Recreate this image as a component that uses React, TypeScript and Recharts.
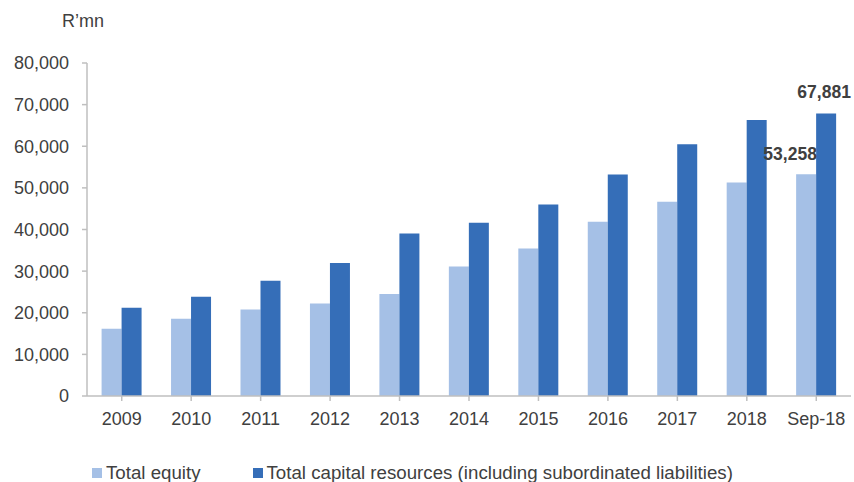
import React from "react";
import { BarChart, Bar, XAxis, YAxis, Legend, LabelList } from "recharts";

const categories = ["2009", "2010", "2011", "2012", "2013", "2014", "2015", "2016", "2017", "2018", "Sep-18"];
const totalEquity = [16180, 18580, 20810, 22250, 24490, 31130, 35450, 41850, 46650, 51290, 53258];
const totalCapital = [21220, 23860, 27700, 31930, 39050, 41610, 46010, 53210, 60480, 66330, 67881];
const yTicks = [0, 10000, 20000, 30000, 40000, 50000, 60000, 70000, 80000];
const legendLabels = ["Total equity", "Total capital resources (including subordinated liabilities)"];

const LIGHT = "#A5C0E6";
const DARK = "#356EB8";
const TEXT = "#404040";
const AXIS = "#BFBFBF";
const FONT = "'Liberation Sans', Arial, sans-serif";

const data = categories.map((c, i) => ({
  name: c,
  equity: totalEquity[i],
  capital: totalCapital[i],
}));

const fmt = (v: number) => v.toLocaleString("en-US");

const makeLabel = (dx: number, dy: number) => (props: any) => {
  const { x, y, width, value, index } = props;
  if (index !== categories.length - 1) return null;
  return (
    <text
      x={Number(x) + Number(width) / 2 + dx}
      y={Number(y) + dy}
      textAnchor="middle"
      fontFamily={FONT}
      fontSize={17.5}
      fontWeight="bold"
      fill={TEXT}
    >
      {fmt(Number(value))}
    </text>
  );
};

const LegendContent = () => (
  <svg width={854} height={50} style={{ display: "block", overflow: "hidden" }}>
    <rect x={92} y={36} width={10} height={10} fill={LIGHT} />
    <text x={106} y={47} fontFamily={FONT} fontSize={18.7} fill={TEXT}>
      {legendLabels[0]}
    </text>
    <rect x={253} y={36} width={10} height={10} fill={DARK} />
    <text x={266.5} y={47} fontFamily={FONT} fontSize={18.7} fill={TEXT}>
      {legendLabels[1]}
    </text>
  </svg>
);

export default function App() {
  return (
    <div style={{ position: "absolute", left: 0, top: 0, width: 854, height: 482, background: "#fff", overflow: "hidden" }}>
      <BarChart
        width={854}
        height={482}
        data={data}
        margin={{ top: 63, right: 3, left: 0, bottom: 0 }}
        barCategoryGap="21%"
        barGap={0}
      >
        <XAxis
          dataKey="name"
          height={36}
          stroke={AXIS}
          strokeWidth={1.5}
          tickSize={5}
          tickMargin={11}
          tick={{ fill: TEXT, fontSize: 18, fontFamily: FONT }}
          interval={0}
        />
        <YAxis
          width={87}
          domain={[0, 80000]}
          ticks={yTicks}
          interval={0}
          stroke={AXIS}
          strokeWidth={1.5}
          tickSize={5}
          tickMargin={13}
          tickFormatter={fmt}
          tick={{ fill: TEXT, fontSize: 18, fontFamily: FONT }}
          label={{
            content: () => (
              <text x={62} y={27} fontFamily={FONT} fontSize={18} fill={TEXT}>
                R’mn
              </text>
            ),
          }}
        />
        <Legend verticalAlign="bottom" height={50} content={<LegendContent />} />
        <Bar dataKey="equity" name={legendLabels[0]} fill={LIGHT} isAnimationActive={false}>
          <LabelList dataKey="equity" content={makeLabel(-16, -14)} />
        </Bar>
        <Bar dataKey="capital" name={legendLabels[1]} fill={DARK} isAnimationActive={false}>
          <LabelList dataKey="capital" content={makeLabel(-2, -15)} />
        </Bar>
      </BarChart>
    </div>
  );
}
